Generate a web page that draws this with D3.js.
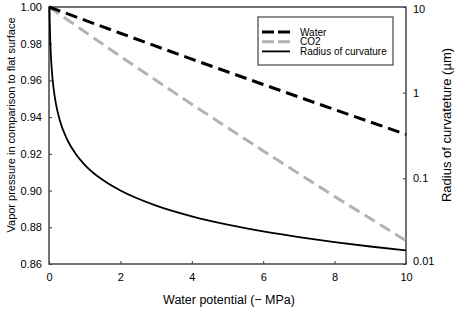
<!DOCTYPE html>
<html lang="en">
<head>
<meta charset="UTF-8">
<title>Vapor pressure</title>
<script src="https://cdn.jsdelivr.net/npm/d3@7"></script>
<style>
  body { margin: 0; background: #fff; }
  text { font-family: "Liberation Sans", Arial, sans-serif; fill: #000; }
</style>
</head>
<body>
<svg width="459" height="310"></svg>
<script>
// data
var psi = [0, 2, 4, 6, 8, 10]
var water = [1.0, 0.9857, 0.9716, 0.9578, 0.9441, 0.9306]
var co2 = [1.0, 0.9731, 0.9470, 0.9216, 0.8968, 0.8727]
var psiR = [0.0144, 0.02, 0.03, 0.05, 0.08, 0.12, 0.2, 0.3, 0.5, 0.75, 1, 1.5, 2, 3, 4, 5, 6, 7, 8, 9, 10]
var radius = [10, 7.2, 4.8, 2.88, 1.8, 1.2, 0.72, 0.48, 0.288, 0.192, 0.144, 0.096, 0.072, 0.048, 0.036, 0.0288, 0.024, 0.0206, 0.018, 0.016, 0.0144]
var xTicks = [0, 2, 4, 6, 8, 10]
var yTicks = [0.86, 0.88, 0.90, 0.92, 0.94, 0.96, 0.98, 1.00]
var y2Ticks = [0.01, 0.1, 1, 10]
var legendNames = ['Water', 'CO2', 'Radius of curvature']

// plot box (note: "top" is reserved on window, so use pL/pR/pT/pB)
var pL = 49, pR = 406, pT = 7, pB = 264
var svg = d3.select('svg')

var x = d3.scaleLinear().domain([0, 10]).range([pL, pR])
var y = d3.scaleLinear().domain([0.86, 1.0]).range([pB, pT])
var y2 = d3.scaleLog().domain([0.01, 10]).range([pB, pT])

// axes, ticks inward
var gx = svg.append('g').attr('transform', 'translate(0,' + pB + ')')
  .call(d3.axisBottom(x).tickValues(xTicks).tickSizeInner(-3).tickSizeOuter(0).tickPadding(9).tickFormat(d3.format('d')))
var gy = svg.append('g').attr('transform', 'translate(' + pL + ',0)')
  .call(d3.axisLeft(y).tickValues(yTicks).tickSizeInner(-3).tickSizeOuter(0).tickPadding(7).tickFormat(d3.format('.2f')))
var gy2 = svg.append('g').attr('transform', 'translate(' + pR + ',0)')
  .call(d3.axisRight(y2).tickValues(y2Ticks).tickSizeInner(-3).tickSizeOuter(0).tickPadding(7).tickFormat(function (d) { return String(d) }))
;[gx, gy, gy2].forEach(function (g) {
  g.select('.domain').remove()
  g.selectAll('line').attr('stroke', '#333').attr('stroke-width', 1)
  g.selectAll('text').style('font-size', '11px').style('font-family', '"Liberation Sans", Arial, sans-serif')
})
gy2.selectAll('text').attr('dy', function (d) { return d == 0.01 ? '0.0em' : '0.32em' })
gy2.selectAll('text').filter(function (d) { return d == 10 }).attr('dy', '0.5em')

// frame
svg.append('rect').attr('x', pL).attr('y', pT).attr('width', pR - pL).attr('height', pB - pT)
  .attr('fill', 'none').attr('stroke', '#444').attr('stroke-width', 1.5)

var line = d3.line().x(function (d) { return x(d[0]) }).y(function (d) { return y(d[1]) })
var line2 = d3.line().curve(d3.curveMonotoneX).x(function (d) { return x(d[0]) }).y(function (d) { return y2(d[1]) })

svg.append('path').datum(d3.zip(psi, co2)).attr('d', line)
  .attr('fill', 'none').attr('stroke', '#b3b3b3').attr('stroke-width', 3).attr('stroke-dasharray', '12,6')
svg.append('path').datum(d3.zip(psi, water)).attr('d', line)
  .attr('fill', 'none').attr('stroke', '#000').attr('stroke-width', 3).attr('stroke-dasharray', '12,6')
svg.append('path').datum(d3.zip(psiR, radius)).attr('d', line2)
  .attr('fill', 'none').attr('stroke', '#000').attr('stroke-width', 1.8)

// legend
var lg = svg.append('g')
lg.append('rect').attr('x', 258).attr('y', 17).attr('width', 135).attr('height', 48)
  .attr('fill', '#fff').attr('stroke', '#444').attr('stroke-width', 1.2)
var styles = [
  { c: '#000', w: 3, dash: '12,4' },
  { c: '#b3b3b3', w: 3, dash: '12,4' },
  { c: '#000', w: 1.8, dash: null }
]
legendNames.forEach(function (name, i) {
  var yy = 32 + i * 9.7
  lg.append('line').attr('x1', 262).attr('x2', 290).attr('y1', yy).attr('y2', yy)
    .attr('stroke', styles[i].c).attr('stroke-width', styles[i].w).attr('stroke-dasharray', styles[i].dash)
  lg.append('text').attr('x', 300).attr('y', yy).attr('dy', '0.35em').style('font-size', '10px').text(name)
})

// axis titles
svg.append('text').attr('x', 229).attr('y', 304).attr('text-anchor', 'middle').style('font-size', '12.5px')
  .text('Water potential (\u2212 MPa)')
svg.append('text').attr('transform', 'translate(15,125) rotate(-90)')
  .attr('text-anchor', 'middle').style('font-size', '11px').text('Vapor pressure in comparison to flat surface')
svg.append('text').attr('transform', 'translate(451,125) rotate(-90)')
  .attr('text-anchor', 'middle').style('font-size', '13px').text('Radius of curvateture (\u00b5m)')
</script>
</body>
</html>
